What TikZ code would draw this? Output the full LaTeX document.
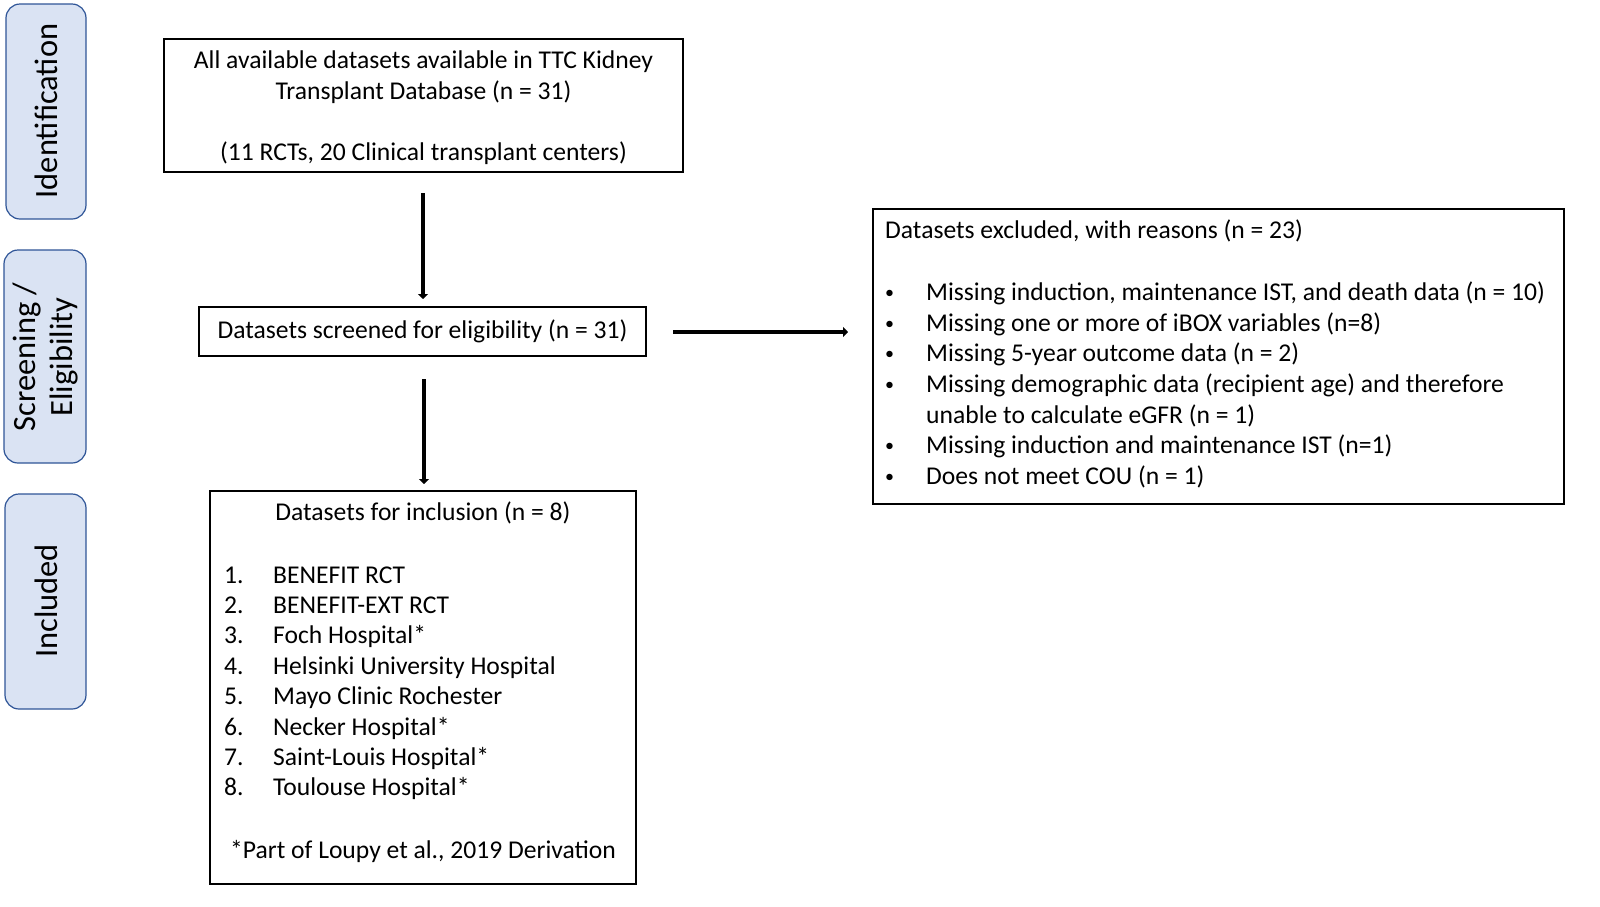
\documentclass[tikz,border=0pt]{standalone}
\usepackage{fontspec}
\setmainfont{Carlito}
\usetikzlibrary{arrows.meta,positioning}
\definecolor{sidefill}{HTML}{DAE3F3}
\definecolor{sidedraw}{HTML}{2F5597}
\begin{document}
\begin{tikzpicture}[x=1pt,y=-1pt,
  side/.style={draw=sidedraw,fill=sidefill,rounded corners=14pt,line width=1.2pt},
  box/.style={draw=black,line width=1.2pt},
  txt/.style={font=\fontsize{25.6}{30.5}\selectfont,inner sep=0pt,anchor=base west},
  ctxt/.style={font=\fontsize{25.6}{30.5}\selectfont,inner sep=0pt,anchor=base},
  flow/.style={line width=4pt,-{Triangle[width=10pt,length=5pt]}},
  sidetxt/.style={font=\fontsize{32.5}{37}\selectfont,rotate=90,align=center,inner sep=0pt}]
\useasboundingbox (0,0) rectangle (1600,906);
% side bars
\draw[side] (6,4) rectangle (86,219);
\node[sidetxt] (lid) at (46,111) {Identification};
\draw[side] (4,250) rectangle (86,463);
\node[sidetxt] (lsc) at (46,357) {Screening /\\Eligibility};
\draw[side] (5,494) rectangle (86,709);
\node[sidetxt] (lin) at (46,601) {Included};
% box 1
\node[box,minimum width=519pt,minimum height=133pt,inner sep=0pt] (b1) at (423.5,105.5) {};
\node[ctxt] (t1a) at (423.5,68) {All available datasets available in TTC Kidney};
\node[ctxt] (t1b) at (423.5,99) {Transplant Database (n = 31)};
\node[ctxt] (t1c) at (423.5,160) {(11 RCTs, 20 Clinical transplant centers)};
% box 2
\node[box,minimum width=447pt,minimum height=49pt,inner sep=0pt] (b2) at (422.5,331.5) {};
\node[ctxt] (t2) at (422.5,338) {Datasets screened for eligibility (n = 31)};
% box 3
\node[box,minimum width=426pt,minimum height=393pt,inner sep=0pt] (b3) at (423,687.5) {};
\node[ctxt] (t3) at (423,520) {Datasets for inclusion (n = 8)};
\foreach \n/\t [count=\i] in {1./BENEFIT RCT,2./BENEFIT-EXT RCT,3./Foch Hospital*,4./Helsinki University Hospital,5./Mayo Clinic Rochester,6./Necker Hospital*,7./Saint-Louis Hospital*,8./Toulouse Hospital*}{
  \node[txt] (n\i) at (224,{583+30.4*(\i-1)}) {\n};
  \node[txt] (l\i) at (273,{583+30.4*(\i-1)}) {\t};
}
\node[ctxt] (fn) at (423,858) {*Part of Loupy et al., 2019 Derivation};
% box 4
\node[box,minimum width=691pt,minimum height=295pt,inner sep=0pt] (b4) at (1218.5,356.5) {};
\node[txt] (t4) at (885,238) {Datasets excluded, with reasons (n = 23)};
\foreach \t/\y [count=\i] in {{Missing induction, maintenance IST, and death data (n = 10)}/300,{Missing one or more of iBOX variables (n=8)}/331,{Missing 5-year outcome data (n = 2)}/361,{Missing demographic data (recipient age) and therefore}/392,{Missing induction and maintenance IST (n=1)}/453,{Does not meet COU (n = 1)}/484}{
  \node[txt] (e\i) at (926,\y) {\t};
  \node[txt,font=\fontsize{18}{20}\selectfont] (d\i) at (885,{\y-2}) {•};
}
\node[txt] (e4b) at (926,423) {unable to calculate eGFR (n = 1)};
% arrows
\coordinate (a1s) at (423,193);
\coordinate (a1e) at (423,299);
\draw[flow] (a1s) -- (a1e);
\coordinate (a2s) at (673,332);
\coordinate (a2e) at (848,332);
\draw[flow] (a2s) -- (a2e);
\coordinate (a3s) at (424,379);
\coordinate (a3e) at (424,484);
\draw[flow] (a3s) -- (a3e);
\end{tikzpicture}
\end{document}
